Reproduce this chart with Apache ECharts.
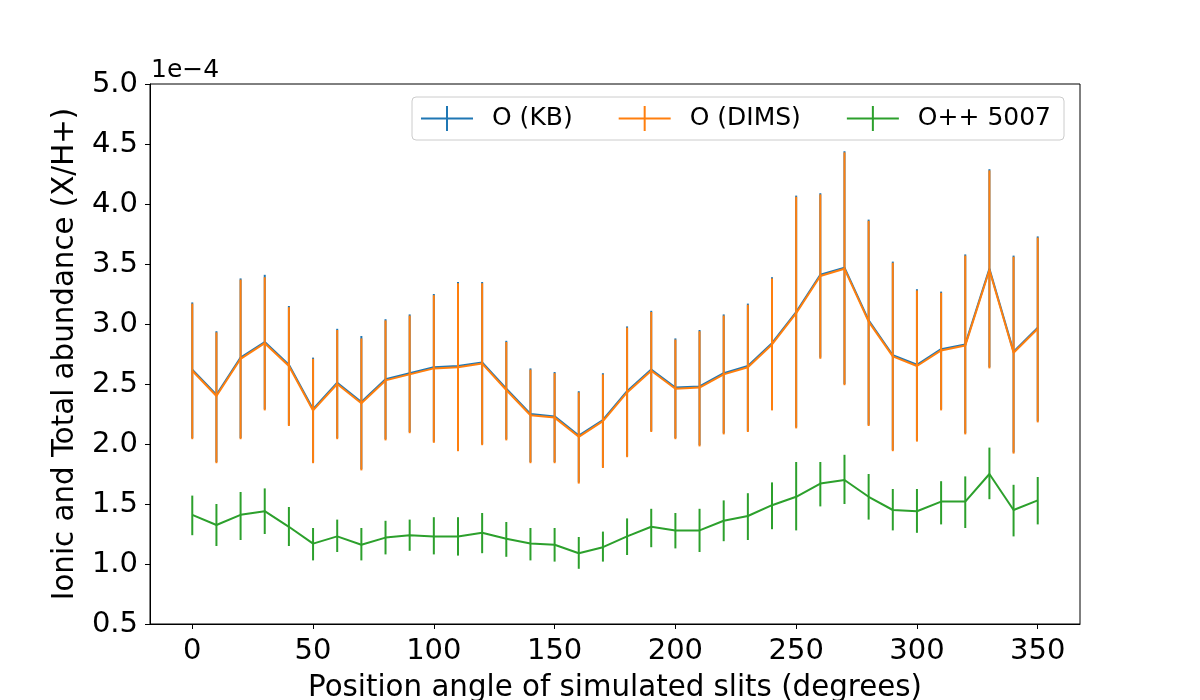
<!DOCTYPE html>
<html>
<head>
<meta charset="utf-8">
<title>Ionic and total abundance</title>
<script src="https://cdn.jsdelivr.net/npm/echarts@6/dist/echarts.min.js"></script>
<style>
  html, body { margin: 0; padding: 0; background: #fff; }
  #chart { width: 1200px; height: 700px; }
</style>
</head>
<body>
<div id="chart"></div>
<script>
// position angle of the slits (degrees)
var angles = [0, 10, 20, 30, 40, 50, 60, 70, 80, 90, 100, 110, 120, 130, 140, 150, 160, 170,
  180, 190, 200, 210, 220, 230, 240, 250, 260, 270, 280, 290, 300, 310, 320, 330, 340, 350];
var xTicks = [0, 50, 100, 150, 200, 250, 300, 350];

// O (KB), units of 1e-4
var oKb = [2.62, 2.41, 2.72, 2.85, 2.66, 2.29, 2.51, 2.35, 2.54, 2.59, 2.64, 2.65, 2.68, 2.46, 2.25, 2.23, 2.07, 2.20,
  2.44, 2.62, 2.47, 2.48, 2.59, 2.65, 2.84, 3.10, 3.41, 3.47, 3.03, 2.74, 2.66, 2.79, 2.83, 3.46, 2.77, 2.97];
var oKbHi = [3.18, 2.94, 3.38, 3.41, 3.15, 2.72, 2.96, 2.90, 3.04, 3.08, 3.25, 3.35, 3.35, 2.86, 2.63, 2.60, 2.44, 2.59,
  2.98, 3.11, 2.88, 2.95, 3.08, 3.17, 3.39, 4.07, 4.09, 4.44, 3.87, 3.52, 3.29, 3.27, 3.58, 4.29, 3.57, 3.73];
var oKbLo = [2.05, 1.85, 2.05, 2.29, 2.16, 1.85, 2.05, 1.79, 2.04, 2.10, 2.02, 1.95, 2.00, 2.04, 1.85, 1.85, 1.68, 1.81,
  1.90, 2.11, 2.05, 1.99, 2.09, 2.11, 2.29, 2.14, 2.72, 2.50, 2.16, 1.95, 2.03, 2.29, 2.09, 2.64, 1.93, 2.19];

// O (DIMS)
var oDims = [2.61, 2.40, 2.71, 2.84, 2.65, 2.28, 2.50, 2.34, 2.53, 2.58, 2.63, 2.64, 2.67, 2.45, 2.24, 2.22, 2.06, 2.19,
  2.43, 2.61, 2.46, 2.47, 2.58, 2.64, 2.83, 3.09, 3.40, 3.46, 3.02, 2.73, 2.65, 2.78, 2.82, 3.45, 2.76, 2.96];
var oDimsHi = [3.17, 2.93, 3.37, 3.39, 3.14, 2.71, 2.95, 2.88, 3.03, 3.07, 3.24, 3.34, 3.34, 2.85, 2.62, 2.59, 2.43, 2.58,
  2.97, 3.10, 2.87, 2.94, 3.07, 3.16, 3.38, 4.06, 4.08, 4.43, 3.86, 3.51, 3.28, 3.26, 3.57, 4.28, 3.56, 3.72];
var oDimsLo = [2.04, 1.84, 2.04, 2.28, 2.15, 1.84, 2.04, 1.78, 2.03, 2.09, 2.01, 1.94, 1.99, 2.03, 1.84, 1.84, 1.67, 1.80,
  1.89, 2.10, 2.04, 1.98, 2.08, 2.10, 2.28, 2.13, 2.71, 2.49, 2.15, 1.94, 2.02, 2.28, 2.08, 2.63, 1.92, 2.18];

// O++ 5007
var o3 = [1.41, 1.325, 1.41, 1.44, 1.31, 1.17, 1.23, 1.16, 1.22, 1.24, 1.23, 1.23, 1.26, 1.21, 1.17, 1.16, 1.09, 1.14,
  1.23, 1.31, 1.28, 1.28, 1.36, 1.40, 1.49, 1.56, 1.67, 1.70, 1.56, 1.45, 1.44, 1.52, 1.52, 1.75, 1.45, 1.53];
var o3Hi = [1.57, 1.50, 1.60, 1.63, 1.475, 1.30, 1.37, 1.30, 1.36, 1.37, 1.39, 1.39, 1.425, 1.35, 1.30, 1.30, 1.225, 1.27,
  1.38, 1.46, 1.425, 1.46, 1.53, 1.59, 1.68, 1.85, 1.85, 1.91, 1.75, 1.625, 1.625, 1.69, 1.73, 1.97, 1.66, 1.725];
var o3Lo = [1.24, 1.15, 1.20, 1.25, 1.15, 1.03, 1.10, 1.03, 1.08, 1.11, 1.08, 1.07, 1.09, 1.06, 1.03, 1.02, 0.96, 1.02,
  1.075, 1.14, 1.13, 1.10, 1.19, 1.20, 1.29, 1.28, 1.48, 1.50, 1.37, 1.28, 1.26, 1.33, 1.30, 1.54, 1.23, 1.33];

var FONT = 'DejaVu Sans';
var crossIcon = 'path://M0,11.5H52V13.5H0Z M25,0H27V25H25Z';

function pairs(vals) {
  var out = [];
  for (var i = 0; i < angles.length; i++) out.push([angles[i], vals[i]]);
  return out;
}
function bars(lo, hi) {
  var out = [];
  for (var i = 0; i < angles.length; i++) out.push([angles[i], lo[i], hi[i]]);
  return out;
}
// vertical error bar, no caps
function errSeries(name, color, lo, hi, z) {
  return {
    name: name,
    type: 'custom',
    z: z,
    silent: true,
    itemStyle: { color: color },
    encode: { x: 0, y: [1, 2] },
    data: bars(lo, hi),
    renderItem: function (params, api) {
      var a = api.coord([api.value(0), api.value(1)]);
      var b = api.coord([api.value(0), api.value(2)]);
      return {
        type: 'line',
        shape: { x1: a[0], y1: a[1], x2: b[0], y2: b[1] },
        style: { stroke: color, lineWidth: 2 }
      };
    }
  };
}
function lineSeries(name, color, vals, z) {
  return {
    name: name,
    type: 'line',
    z: z,
    data: pairs(vals),
    showSymbol: false,
    symbol: 'none',
    color: color,
    itemStyle: { color: color, borderWidth: 0 },
    lineStyle: { color: color, width: 2 },
    animation: false
  };
}

var chart = echarts.init(document.getElementById('chart'));
chart.setOption({
  animation: false,
  backgroundColor: '#fff',
  color: ['#1f77b4', '#ff7f0e', '#2ca02c'],
  textStyle: { fontFamily: FONT },
  grid: {
    left: 150, right: 120, top: 84, bottom: 76,
    containLabel: false,
    outerBoundsMode: 'none',
    show: true, borderColor: '#000', borderWidth: 1
  },
  legend: {
    left: 412, top: 97,
    orient: 'horizontal',
    icon: crossIcon,
    itemWidth: 52, itemHeight: 25,
    itemGap: 46,
    padding: [9, 13, 9, 9],
    borderColor: '#cccccc', borderWidth: 1, borderRadius: 4,
    backgroundColor: '#fff',
    itemStyle: { borderWidth: 0 },
    textStyle: { fontFamily: FONT, fontSize: 25, color: '#000', padding: [0, 0, 0, 14] },
    data: ['O (KB)', 'O (DIMS)', 'O++ 5007']
  },
  xAxis: {
    type: 'value',
    min: -17.5, max: 367.5,
    name: 'Position angle of simulated slits (degrees)',
    nameLocation: 'middle',
    nameGap: 50,
    nameTextStyle: { fontFamily: FONT, fontSize: 29.3, color: '#000' },
    axisLine: { show: true, onZero: false, lineStyle: { color: '#000', width: 1 } },
    axisTick: { show: true, length: 5, lineStyle: { color: '#000' }, customValues: xTicks },
    axisLabel: { fontFamily: FONT, fontSize: 29, color: '#000', margin: 13, customValues: xTicks },
    splitLine: { show: false }
  },
  yAxis: {
    type: 'value',
    min: 0.5, max: 5.0, interval: 0.5,
    name: 'Ionic and Total abundance (X/H+)',
    nameLocation: 'middle',
    nameGap: 70,
    nameTextStyle: { fontFamily: FONT, fontSize: 29.3, color: '#000' },
    axisLine: { show: true, onZero: false, lineStyle: { color: '#000', width: 1 } },
    axisTick: { show: true, length: 5, lineStyle: { color: '#000' } },
    axisLabel: {
      fontFamily: FONT, fontSize: 29, color: '#000', margin: 12,
      formatter: function (v) { return v.toFixed(1); }
    },
    splitLine: { show: false }
  },
  graphic: [{
    type: 'text',
    left: 151, top: 58,
    style: { text: '1e\u22124', font: '25px "DejaVu Sans"', fill: '#000' }
  }],
  series: [
    errSeries('O (KB)', '#1f77b4', oKbLo, oKbHi, 2),
    lineSeries('O (KB)', '#1f77b4', oKb, 3),
    errSeries('O (DIMS)', '#ff7f0e', oDimsLo, oDimsHi, 4),
    lineSeries('O (DIMS)', '#ff7f0e', oDims, 5),
    errSeries('O++ 5007', '#2ca02c', o3Lo, o3Hi, 6),
    lineSeries('O++ 5007', '#2ca02c', o3, 7)
  ]
});
</script>
</body>
</html>
